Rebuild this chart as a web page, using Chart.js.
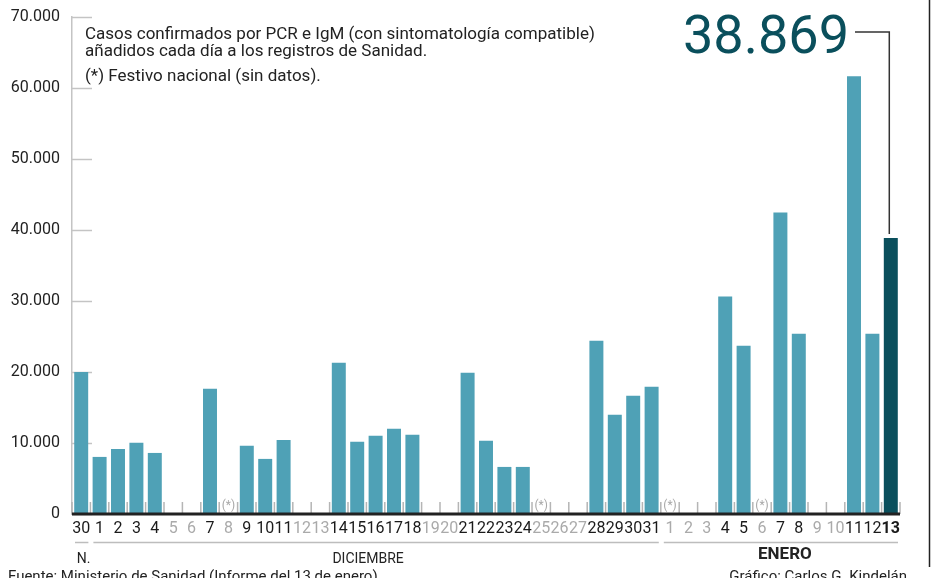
<!DOCTYPE html>
<html>
<head>
<meta charset="utf-8">
<script src="https://cdn.jsdelivr.net/npm/chart.js@4.4.1/dist/chart.umd.min.js"></script>
<style>
  html, body { margin: 0; padding: 0; background: #fff; }
  #wrap { width: 931px; height: 578px; }
</style>
</head>
<body>
<div id="wrap"><canvas id="casesChart" width="931" height="578"></canvas></div>
<script>
// días: 30 nov, 1-31 dic, 1-13 ene
const days = [
  "30",
  "1", "2", "3", "4", "5", "6", "7", "8", "9", "10", "11", "12", "13", "14", "15", "16",
  "17", "18", "19", "20", "21", "22", "23", "24", "25", "26", "27", "28", "29", "30", "31",
  "1", "2", "3", "4", "5", "6", "7", "8", "9", "10", "11", "12", "13",
];

const cases = [
  20000,
  8040, 9170, 10020, 8600, null, null, 17640, null, 9600, 7760, 10440, null, null, 21310, 10160, 11010,
  12000, 11150, null, null, 19900, 10300, 6630, 6630, null, null, null, 24410, 13970, 16650, 17920,
  null, null, null, 30620, 23710, null, 42480, 25400, null, null, 61670, 25400, 38869,
];

const holidays = [8, 25, 32, 37];
const yTicks = [0, 10000, 20000, 30000, 40000, 50000, 60000, 70000];

const monthNames = ["N.", "DICIEMBRE", "ENERO"];
const monthFirst = [0, 1, 32];
const monthLast = [0, 31, 44];

const noteLines = [
  "Casos confirmados por PCR e IgM (con sintomatología compatible)",
  "añadidos cada día a los registros de Sanidad.",
  "(*) Festivo nacional (sin datos).",
];
const sourceText = "Fuente: Ministerio de Sanidad (Informe del 13 de enero)";
const creditText = "Gráfico: Carlos G. Kindelán";

const lastIdx = cases.length - 1;
const FONT = "Roboto, 'Liberation Sans', sans-serif";
const TEAL = "#4fa1b6";
const DARK = "#0a4f5c";

function fmt(v) {
  return String(v).replace(/\B(?=(\d{3})+(?!\d))/g, ".");
}

const decor = {
  id: "decor",
  beforeDatasetsDraw(chart) {
    const { ctx, chartArea, scales } = chart;
    const x = scales.x, y = scales.y;
    const step = x.getPixelForValue(1) - x.getPixelForValue(0);
    ctx.save();
    // short y ticks
    ctx.strokeStyle = "#c4c4c4";
    ctx.lineWidth = 1.5;
    yTicks.forEach((v) => {
      const py = Math.round(y.getPixelForValue(v)) + 0.5;
      ctx.beginPath();
      ctx.moveTo(chartArea.left, py);
      ctx.lineTo(chartArea.left + 20, py);
      ctx.stroke();
    });
    // small ticks between days
    ctx.strokeStyle = "#b5b5b5";
    for (let i = 0; i <= days.length; i++) {
      const px = x.getPixelForValue(i) - step / 2;
      ctx.beginPath();
      ctx.moveTo(px, chartArea.bottom - 12);
      ctx.lineTo(px, chartArea.bottom);
      ctx.stroke();
    }
    ctx.restore();
  },
  afterDatasetsDraw(chart) {
    const { ctx, chartArea, scales } = chart;
    const x = scales.x, y = scales.y;
    const step = x.getPixelForValue(1) - x.getPixelForValue(0);
    ctx.save();

    // baseline
    ctx.strokeStyle = "#222";
    ctx.lineWidth = 3;
    ctx.beginPath();
    ctx.moveTo(chartArea.left, chartArea.bottom);
    ctx.lineTo(chartArea.right, chartArea.bottom);
    ctx.stroke();

    // holiday marks
    ctx.fillStyle = "#a8a8a8";
    ctx.font = "12px " + FONT;
    ctx.textAlign = "center";
    ctx.textBaseline = "alphabetic";
    holidays.forEach((i) => {
      ctx.fillText("(*)", x.getPixelForValue(i), chartArea.bottom - 5);
    });

    // month brackets
    const shift = [2, -8, 4];
    ctx.strokeStyle = "#bdbdbd";
    ctx.lineWidth = 1.5;
    monthNames.forEach((name, k) => {
      const a = x.getPixelForValue(monthFirst[k]) - step / 2 + 3;
      const b = x.getPixelForValue(monthLast[k]) + step / 2 - 2;
      ctx.beginPath();
      ctx.moveTo(a, 542.5);
      ctx.lineTo(b, 542.5);
      ctx.stroke();
      const bold = k === monthNames.length - 1;
      ctx.fillStyle = "#222";
      ctx.font = (bold ? "bold 17px " : "14px ") + FONT;
      ctx.textAlign = "center";
      ctx.fillText(name, (a + b) / 2 + shift[k], bold ? 559 : 563);
    });

    // note
    ctx.fillStyle = "#222";
    ctx.font = "17px " + FONT;
    ctx.textAlign = "left";
    ctx.fillText(noteLines[0], 85, 39);
    ctx.fillText(noteLines[1], 85, 56);
    ctx.fillText(noteLines[2], 85, 81);

    // footer
    ctx.font = "15px " + FONT;
    ctx.fillText(sourceText, 8, 581);
    ctx.textAlign = "right";
    ctx.fillText(creditText, 907, 581);

    // big number + connector
    const bx = x.getPixelForValue(lastIdx) - 1.5;
    const by = y.getPixelForValue(cases[lastIdx]) - 4;
    ctx.strokeStyle = "#333";
    ctx.lineWidth = 1.5;
    ctx.beginPath();
    ctx.moveTo(855, 32);
    ctx.lineTo(bx, 32);
    ctx.lineTo(bx, by);
    ctx.stroke();
    ctx.fillStyle = DARK;
    ctx.font = "54px " + FONT;
    ctx.textAlign = "right";
    ctx.fillText(fmt(cases[lastIdx]), 849, 53);

    // right edge rule
    ctx.strokeStyle = "#222";
    ctx.lineWidth = 1.5;
    ctx.beginPath();
    ctx.moveTo(929.5, 0);
    ctx.lineTo(929.5, 567);
    ctx.stroke();

    ctx.restore();
  },
};

new Chart(document.getElementById("casesChart"), {
  type: "bar",
  data: {
    labels: days,
    datasets: [{
      data: cases,
      backgroundColor: cases.map((v, i) => (i === lastIdx ? DARK : TEAL)),
      barPercentage: 0.76,
      categoryPercentage: 1,
    }],
  },
  options: {
    responsive: false,
    animation: false,
    devicePixelRatio: 1,
    layout: { padding: { left: 0, right: 31, top: 17, bottom: 0 } },
    plugins: { legend: { display: false }, tooltip: { enabled: false } },
    scales: {
      x: {
        offset: true,
        grid: { display: false, drawTicks: false },
        border: { display: false },
        ticks: {
          autoSkip: false,
          maxRotation: 0,
          padding: 5,
          font: (c) => ({ family: FONT, size: 16, weight: c.index === lastIdx ? "bold" : "normal" }),
          color: (c) => (cases[c.index] === null ? "#aaaaaa" : "#1a1a1a"),
        },
        afterFit: (s) => { s.height = 64; },
      },
      y: {
        min: 0,
        max: 70000,
        grid: { display: false, drawTicks: false },
        border: { display: true, color: "#c4c4c4", width: 1.5 },
        ticks: {
          stepSize: 10000,
          padding: 12,
          color: "#222",
          font: { family: FONT, size: 16 },
          callback: (v) => fmt(v),
        },
        afterFit: (s) => { s.width = 72; s.paddingTop = 0; s.paddingBottom = 0; },
      },
    },
  },
  plugins: [decor],
});
</script>
</body>
</html>
